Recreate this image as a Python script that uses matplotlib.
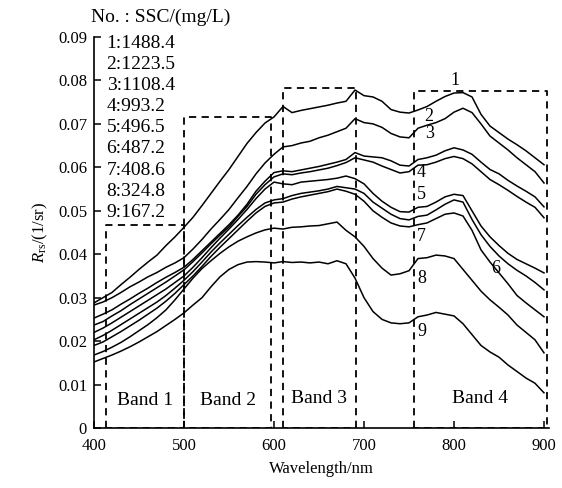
import numpy as np
import matplotlib.pyplot as plt

plt.rcParams['font.family'] = ['Liberation Serif', 'Noto Sans CJK SC']
plt.rcParams['mathtext.fontset'] = 'custom'
plt.rcParams['mathtext.rm'] = 'Liberation Serif'
plt.rcParams['mathtext.it'] = 'Liberation Serif:italic'

# wavelength grid (nm) and Rrs spectra
wl = np.arange(400, 910, 10)

r1 = [.0288, .0300, .0312, .0330, .0347, .0365, .0382, .0398, .0420, .0440, .0462,
      .0485, .0512, .0540, .0568, .0595, .0625, .0655, .0680, .0702, .0716,
      .0740, .0726, .0731, .0735, .0739, .0743, .0748, .0752, .0778, .0765,
      .0762, .0752, .0733, .0727, .0725, .0732, .0740, .0752, .0763, .0771,
      .0772, .0762, .0722, .0695, .0680, .0665, .0652, .0638, .0622, .0606]
r2 = [.0283, .0290, .0300, .0312, .0325, .0336, .0348, .0358, .0370, .0380, .0392,
      .0412, .0434, .0458, .0480, .0503, .0530, .0556, .0585, .0610, .0630,
      .0647, .0650, .0656, .0660, .0668, .0674, .0682, .0690, .0712, .0703,
      .0700, .0692, .0678, .0670, .0668, .0690, .0697, .0703, .0712, .0727,
      .0736, .0726, .0700, .0672, .0656, .0640, .0622, .0606, .0590, .0564]
r3 = [.0253, .0262, .0272, .0285, .0297, .0310, .0322, .0335, .0347, .0358, .0370,
      .0388, .0408, .0428, .0448, .0468, .0490, .0515, .0545, .0568, .0588,
      .0592, .0590, .0594, .0598, .0602, .0607, .0612, .0618, .0634, .0626,
      .0624, .0622, .0615, .0605, .0603, .0618, .0622, .0628, .0638, .0645,
      .0640, .0630, .0612, .0595, .0585, .0570, .0557, .0545, .0532, .0509]
r4 = [.0237, .0245, .0258, .0270, .0284, .0297, .0310, .0323, .0336, .0350, .0364,
      .0383, .0403, .0424, .0444, .0463, .0487, .0510, .0538, .0560, .0578,
      .0585, .0583, .0587, .0590, .0594, .0598, .0604, .0611, .0622, .0617,
      .0612, .0603, .0595, .0587, .0590, .0605, .0606, .0612, .0620, .0625,
      .0620, .0608, .0590, .0572, .0560, .0547, .0533, .0520, .0508, .0484]
r5 = [.0220, .0230, .0242, .0255, .0268, .0281, .0294, .0307, .0320, .0335, .0350,
      .0370, .0392, .0415, .0437, .0458, .0480, .0503, .0528, .0550, .0566,
      .0562, .0560, .0566, .0568, .0570, .0572, .0575, .0580, .0574, .0562,
      .0540, .0522, .0508, .0498, .0497, .0508, .0510, .0520, .0532, .0538,
      .0535, .0500, .0465, .0440, .0420, .0402, .0388, .0378, .0368, .0357]
r6 = [.0203, .0213, .0225, .0238, .0251, .0264, .0277, .0290, .0305, .0322, .0340,
      .0360, .0382, .0405, .0426, .0446, .0466, .0485, .0503, .0518, .0525,
      .0528, .0535, .0540, .0543, .0546, .0550, .0556, .0553, .0550, .0540,
      .0520, .0506, .0492, .0482, .0479, .0487, .0490, .0502, .0515, .0525,
      .0520, .0480, .0445, .0418, .0396, .0378, .0363, .0350, .0335, .0318]
r7 = [.0190, .0198, .0210, .0222, .0235, .0248, .0262, .0276, .0292, .0310, .0330,
      .0350, .0372, .0395, .0416, .0436, .0456, .0476, .0495, .0510, .0518,
      .0520, .0527, .0532, .0536, .0540, .0544, .0550, .0545, .0538, .0522,
      .0500, .0485, .0472, .0465, .0463, .0468, .0472, .0482, .0492, .0495,
      .0488, .0455, .0410, .0382, .0357, .0332, .0305, .0288, .0272, .0256]
r8 = [.0168, .0176, .0186, .0197, .0210, .0224, .0238, .0254, .0272, .0295, .0320,
      .0345, .0367, .0385, .0402, .0417, .0430, .0440, .0449, .0456, .0460,
      .0458, .0462, .0463, .0465, .0466, .0470, .0474, .0455, .0440, .0418,
      .0390, .0368, .0352, .0355, .0362, .0390, .0392, .0398, .0396, .0390,
      .0365, .0340, .0315, .0295, .0278, .0260, .0237, .0220, .0203, .0173]
r9 = [.0152, .0160, .0168, .0177, .0187, .0198, .0210, .0222, .0236, .0250, .0265,
      .0283, .0300, .0325, .0348, .0365, .0376, .0382, .0383, .0382, .0380,
      .0383, .0381, .0382, .0380, .0382, .0378, .0385, .0378, .0345, .0300,
      .0268, .0250, .0242, .0240, .0242, .0256, .0260, .0266, .0262, .0258,
      .0240, .0215, .0190, .0175, .0163, .0145, .0130, .0115, .0103, .0081]
spectra = [r1, r2, r3, r4, r5, r6, r7, r8, r9]

ssc = ['1488.4', '1223.5', '1108.4', '993.2', '496.5', '487.2', '408.6', '324.8', '167.2']

# band boxes: (start nm, end nm, top Rrs)
bands = [(413, 500, 0.0467), (500, 597, 0.0716), (610, 691, 0.0783), (755, 903, 0.0775)]
band_names = ['Band 1', 'Band 2', 'Band 3', 'Band 4']
band_label_y = [0.0064, 0.0064, 0.0067, 0.0069]

# curve number labels (nm, Rrs)
num_labels = ['1', '2', '3', '4', '5', '7', '8', '9', '6']
num_x = [801, 772, 773, 764, 764, 764, 764, 764, 846]
num_y = [0.0800, 0.0716, 0.0678, 0.0587, 0.0537, 0.0440, 0.0345, 0.0221, 0.0368]

fig = plt.figure(figsize=(5.62, 4.88), dpi=100)
ax = fig.add_axes([94/562, 1-428/488, 454.5/562, 391/488])

for r in spectra:
    ax.plot(wl, r, color='black', lw=1.1)

for (x0, x1, top), name, ly in zip(bands, band_names, band_label_y):
    ax.plot([x0, x0, x1, x1, x0], [0, top, top, 0, 0], color='black',
            lw=1.3, linestyle=(0, (4, 3)))
    ax.text((x0+x1)/2, ly, name, ha='center', va='center', fontsize=14)

for t, x, y in zip(num_labels, num_x, num_y):
    ax.text(x, y, t, ha='center', va='center', fontsize=13)

for i, s in enumerate(ssc):
    ax.text(414, 0.0886 - i*0.00487, f'{i+1}:{s}', ha='left', va='center', fontsize=14)
fig.text(91/562, 1-17/488, 'No. : SSC/(mg/L)', ha='left', va='center', fontsize=14)

ax.set_xlim(400, 905)
ax.set_ylim(0, 0.09)
ax.set_xticks([400, 500, 600, 700, 800, 900])
ax.set_yticks([0, 0.01, 0.02, 0.03, 0.04, 0.05, 0.06, 0.07, 0.08, 0.09])
ax.set_yticklabels(['0', '0.01', '0.02', '0.03', '0.04', '0.05', '0.06', '0.07', '0.08', '0.09'])
ax.tick_params(direction='in', length=5, width=1.1, labelsize=12, pad=5)
ax.tick_params(axis='x', pad=7)
ax.spines['top'].set_visible(False)
ax.spines['right'].set_visible(False)
ax.spines['left'].set_linewidth(1.2)
ax.spines['bottom'].set_linewidth(1.2)

ax.set_xlabel('Wavelength/nm', fontsize=12, labelpad=5)
ax.set_ylabel(r'$R_{\rm rs}$/(1/sr)', fontsize=12, labelpad=6)

fig.savefig('out.png', dpi=100)
